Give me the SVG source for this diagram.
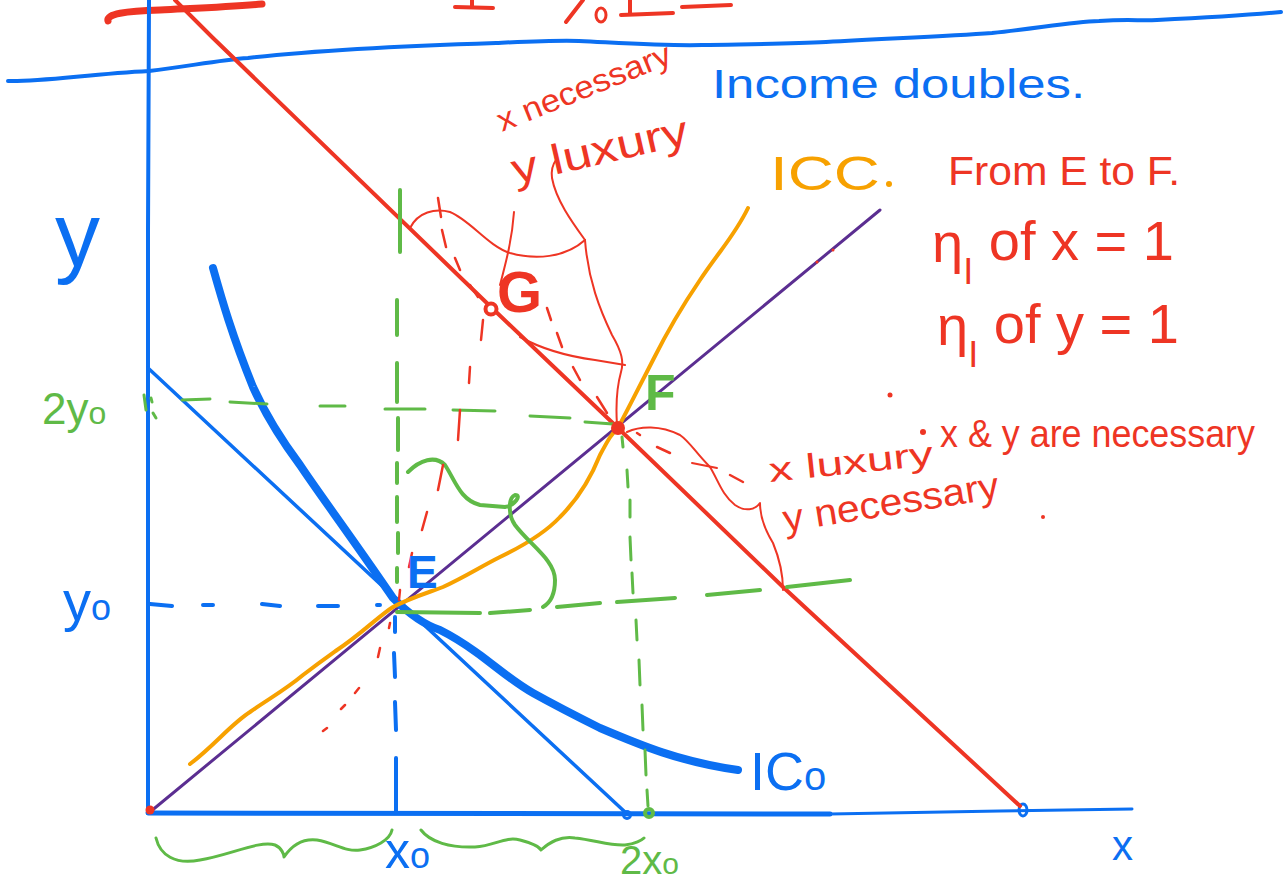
<svg xmlns="http://www.w3.org/2000/svg" width="1283" height="886" viewBox="0 0 1283 886">
<style>
.b{stroke:#0b6ff2;fill:none;stroke-linecap:round;stroke-linejoin:round}
.r{stroke:#ee3524;fill:none;stroke-linecap:round;stroke-linejoin:round}
.g{stroke:#5fba47;fill:none;stroke-linecap:round;stroke-linejoin:round}
.o{stroke:#f7a100;fill:none;stroke-linecap:round;stroke-linejoin:round}
.p{stroke:#5b2e91;fill:none;stroke-linecap:round}
text{font-family:"Liberation Sans","DejaVu Sans",sans-serif}
.tb{fill:#0b6ff2}.tr{fill:#ee3524}.tg{fill:#5fba47}.to{fill:#f7a100}
</style>
<rect width="1283" height="886" fill="#ffffff"/>

<g id="top-strokes">
<path class="b" stroke-width="4" d="M8,81 C40,82 90,74 149,71 C190,66 220,60 248,58 C300,52 400,46 496,43 C540,41 560,40 579,41 C640,44 670,46 702,45 C760,44 790,44 826,42 C900,38 950,36 992,33 C1040,28 1070,22 1099,21 C1130,19 1140,21 1157,20 C1200,18 1240,16 1281,12"/>
<path class="r" stroke-width="7" d="M108,21 C106,14 125,11 160,10 C200,8 230,7 262,4"/>
<path class="r" stroke-width="4" d="M455,7 L493,8 M472,0 L472,7 M583,0 L566,22 M621,15 L673,13 M630,0 L630,15 M682,7 L731,5"/>
<ellipse class="r" stroke-width="3" cx="601" cy="15" rx="5" ry="7"/>
</g>

<g id="axes">
<path class="b" stroke-width="4" d="M149,0 L148,230 L148,813"/>
<path class="b" stroke-width="5" d="M148,813 L830,814"/>
<path class="b" stroke-width="3" d="M830,814 L1000,811 L1132,809"/>
<ellipse class="b" stroke-width="3" cx="1023" cy="810" rx="4" ry="6"/>
</g>

<g id="connectors">
<path id="budget-line-2" class="r" stroke-width="4" d="M175,0 L213,38 L492,308 L618,428 L783,587 L1020,806"/>
<path id="budget-line-1" class="b" stroke-width="3.5" d="M148,368 L625,812"/>
<circle class="b" stroke-width="3" cx="627" cy="815" r="3.5"/>
<path id="ray" class="p" stroke-width="3" d="M150,812 L880,210"/>
<path id="ic0" class="b" stroke-width="8" d="M213,268 C222,300 232,335 253,387 C268,420 285,445 300,465 C320,495 350,535 393,598 C410,615 425,625 440,630 C460,640 470,648 480,655 C500,670 515,683 533,693 C560,708 580,718 600,728 C640,745 680,762 738,770"/>
<path id="icc" class="o" stroke-width="4" d="M190,764 C215,745 230,725 250,712 C270,698 285,690 303,675 C320,662 330,655 337,650 C360,635 380,615 393,607 C410,598 430,592 443,587 C465,577 480,567 500,557 C525,545 545,533 560,517 C580,497 592,475 600,455 C608,440 612,433 618,428 C630,405 640,385 653,360 C668,330 683,305 700,280 C720,250 735,235 748,208"/>

<path class="b" stroke-width="4" d="M150,604 L172,606 M203,605 L213,605 M262,604 L280,606 M318,606 L338,606 M377,605 L380,605"/>
<path class="b" stroke-width="4" d="M395,617 L395,632 M394,653 L395,677 M395,702 L396,730 M396,758 L396,813"/>

<path class="g" stroke-width="4" d="M400,190 L400,252 M397,300 L397,335 M397,363 L397,402 M398,418 L398,450 M397,463 L397,483 M397,497 L397,522 M398,533 L398,553 M397,568 L397,582"/>
<path class="g" stroke-width="3" d="M182,400 L210,399 M230,402 L267,404 M320,406 L345,406 M385,409 L425,409 M453,410 L495,411 M530,416 L570,418 M585,422 L613,424"/>
<path class="g" stroke-width="3" d="M144,395 L146,410 M151,398 L152,402 M153,413 L156,418"/>
<path class="g" stroke-width="4" d="M397,612 L480,613 M490,613 L530,610 M557,607 L600,603 M617,602 L675,598 M707,595 L760,590 M787,587 L850,580"/>
<path class="g" stroke-width="3" d="M622,437 L623,447 M627,470 L628,487 M630,500 L630,517 M630,537 L631,560 M632,573 L633,593 M636,620 L637,640 M639,660 L640,685 M642,705 L643,730 M645,750 L646,775 M647,790 L648,806"/>
<circle class="g" stroke-width="4" cx="649" cy="813" r="4"/>
<path class="g" stroke-width="4" d="M408,472 C420,460 435,455 445,465 C455,480 460,500 480,505 L505,507 C515,505 522,495 515,495 C508,498 508,515 515,525 C530,545 555,560 555,580 C555,595 550,603 543,607"/>
<path class="g" stroke-width="3" d="M156,838 C160,855 175,865 200,860 C230,855 260,840 275,845 C282,848 284,855 284,857 C290,848 300,838 317,840 C335,843 345,852 360,850 C375,848 390,840 392,830"/>
<path class="g" stroke-width="3" d="M421,830 C430,842 450,848 475,847 C495,846 505,836 520,840 C535,844 540,848 541,850 C550,842 560,836 575,838 C595,840 610,846 625,845 C635,844 642,840 644,838"/>

<path class="r" stroke-width="2.5" d="M438,198 L441,217 M442,230 L446,247 M455,258 L460,270 M470,285 L478,297"/>
<path class="r" stroke-width="2.5" d="M483,320 L481,340 M470,367 L469,383 M460,410 L458,440 M443,465 L438,490 M427,512 L422,530 M412,553 L409,567 M400,590 L399,600 M390,623 L389,628 M380,648 L378,657 M359,688 L355,693 M345,705 L341,709 M327,728 L323,731"/>
<path class="r" stroke-width="2.5" d="M547,308 L551,320 M557,333 L562,347 M573,367 L580,380 M597,397 L607,413"/>
<path class="r" stroke-width="2.5" d="M637,433 L640,435 M657,447 L670,453 M730,475 L743,482"/>
<path class="r" stroke-width="2" d="M410,228 C418,212 435,208 450,212 C470,220 488,246 510,253 C535,260 565,258 585,240"/>
<path class="r" stroke-width="2" d="M585,240 C572,222 556,200 552,178 C551,170 553,164 556,160"/>
<path class="r" stroke-width="2" d="M585,240 C588,280 600,310 612,335 C622,352 624,362 621,372 C616,390 616,410 617,425"/>
<path class="r" stroke-width="2" d="M520,337 C540,348 565,356 595,360 L625,365"/>
<path class="r" stroke-width="2" d="M514,212 C512,240 506,262 500,285"/>
<path class="r" stroke-width="2" d="M627,432 C640,426 660,425 680,435 C690,442 695,452 710,467 C718,480 722,495 735,505 C745,512 755,510 760,503 C760,515 765,530 773,543 C780,560 783,575 783,590"/>
<path class="r" stroke-width="2" d="M692,463 L717,468"/>
</g>

<g id="point-origin"><circle cx="150" cy="810" r="4.5" fill="#ee3524"/></g>
<g id="point-E"><text class="tb" x="407" y="588" font-size="46" font-weight="bold">E</text></g>
<g id="point-F">
<circle cx="618" cy="428" r="7" fill="#ee3524"/>
<text class="tg" x="645" y="410" font-size="50" font-weight="bold">F</text>
</g>
<g id="point-G">
<circle cx="491" cy="309" r="5.5" fill="#ffffff" stroke="#ee3524" stroke-width="4"/>
<text class="tr" x="497" y="312" font-size="58" font-weight="bold">G</text>
</g>

<g id="labels">
<text class="tb" x="712" y="98" font-size="40" textLength="373" lengthAdjust="spacingAndGlyphs">Income doubles.</text>
<text class="tb" x="55" y="266" font-size="90">y</text>
<text class="tg" x="42" y="424" font-size="44">2y<tspan font-size="32">o</tspan></text>
<text class="tb" x="63" y="620" font-size="56">y<tspan font-size="36">o</tspan></text>
<text class="tb" x="385" y="868" font-size="50">x<tspan font-size="36">o</tspan></text>
<text class="tg" x="620" y="874" font-size="40">2x<tspan font-size="30">o</tspan></text>
<text class="tb" x="1112" y="860" font-size="42">x</text>
<text class="tb" x="750" y="790" font-size="54">IC<tspan font-size="40">o</tspan></text>
<text class="to" x="770" y="190" font-size="48" textLength="110" lengthAdjust="spacingAndGlyphs">ICC</text>
<circle cx="889" cy="184" r="3" fill="#f7a100"/>
<text class="tr" x="948" y="185" font-size="40" textLength="232" lengthAdjust="spacingAndGlyphs">From E to F.</text>
<text class="tr" x="932" y="262" font-size="56">η<tspan dy="22" font-size="36">I</tspan><tspan dy="-24"> of x = 1</tspan></text>
<text class="tr" x="937" y="345" font-size="56">η<tspan dy="22" font-size="36">I</tspan><tspan dy="-24"> of y = 1</tspan></text>
<text class="tr" x="940" y="447" font-size="38" textLength="315" lengthAdjust="spacingAndGlyphs">x &amp; y are necessary</text>
<circle cx="890" cy="395" r="2.5" fill="#ee3524"/>
<circle cx="923" cy="432" r="3" fill="#ee3524"/>
<circle cx="1043" cy="517" r="2" fill="#ee3524"/>
<circle cx="817" cy="262" r="1.5" fill="#ee3524"/>
<circle cx="833" cy="250" r="1.5" fill="#ee3524"/>
<text class="tr" font-size="34" transform="translate(770,482) rotate(-6)" textLength="165" lengthAdjust="spacingAndGlyphs">x luxury</text>
<text class="tr" font-size="38" transform="translate(785,532) rotate(-9)" textLength="218" lengthAdjust="spacingAndGlyphs">y necessary</text>
<text class="tr" font-size="32" transform="translate(502,132) rotate(-22)" textLength="185" lengthAdjust="spacingAndGlyphs">x necessary</text>
<text class="tr" font-size="42" transform="translate(515,184) rotate(-13)" textLength="180" lengthAdjust="spacingAndGlyphs">y luxury</text>
</g>
</svg>
